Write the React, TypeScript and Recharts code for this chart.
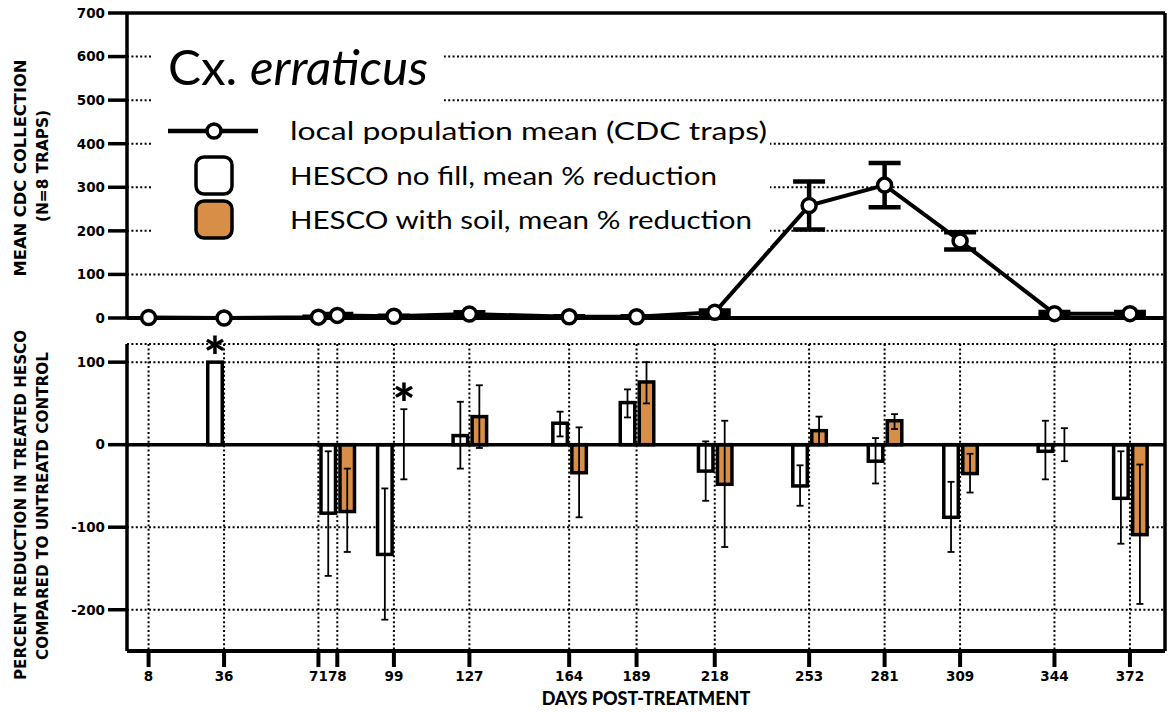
import React from 'react';
import {
  ComposedChart,
  Line,
  Bar,
  XAxis,
  YAxis,
  CartesianGrid,
  ErrorBar,
  ReferenceLine,
  ReferenceDot,
} from 'recharts';

// ---------- data ----------
const days = [8, 36, 71, 78, 99, 127, 164, 189, 218, 253, 281, 309, 344, 372];
const cdcMean = [1, 0, 2, 6, 4, 9, 3, 3, 13, 258, 305, 177, 10, 10];
const cdcErr = [0, 0, 1, 3, 1, 4, 1, 1, 4, 55, 51, 20, 4, 4];

const barDays = [36, 78, 99, 127, 164, 189, 218, 253, 281, 309, 344, 372];
const noFill = [100, -83, -133, 11, 26, 51, -32, -50, -20, -88, -8, -65];
const noFillLow = [null, -159, -212, -29, 10, 33, -68, -74, -47, -130, -42, -120];
const noFillHigh = [null, -8, -53, 52, 40, 67, 4, -25, 8, -45, 29, -8];
const soil = [null, -81, 0, 34, -34, 76, -48, 17, 29, -35, 0, -109];
const soilLow = [null, -130, -42, -4, -88, 50, -124, 0, 19, -58, -20, -193];
const soilHigh = [null, -29, 43, 72, 21, 100, 29, 34, 37, -11, 20, -24];

const starNoFillDays = [36];
const starSoilDays = [99];

const topYTicks = [0, 100, 200, 300, 400, 500, 600, 700];
const bottomYTicks = [-200, -100, 0, 100];

const seriesNames = [
  'local population mean (CDC traps)',
  'HESCO no fill, mean % reduction',
  'HESCO with soil, mean % reduction',
];

// ---------- tables ----------
const topData = days.map((d, i) => ({ day: d, mean: cdcMean[i], err: cdcErr[i] }));
const barData = barDays.map((d, i) => ({
  day: d,
  nofill: noFill[i],
  nofillErr:
    noFillLow[i] == null ? null : [noFill[i] - (noFillLow[i] as number), (noFillHigh[i] as number) - noFill[i]],
  soil: soil[i],
  soilErr:
    soil[i] == null || soilLow[i] == null
      ? null
      : [(soil[i] as number) - (soilLow[i] as number), (soilHigh[i] as number) - (soil[i] as number)],
}));

const starPoints = [
  ...starNoFillDays.map((d) => {
    const i = barDays.indexOf(d);
    return { axis: 'w', day: d, y: Math.max(noFill[i], (noFillHigh[i] as number) ?? noFill[i]) };
  }),
  ...starSoilDays.map((d) => {
    const i = barDays.indexOf(d);
    return { axis: 's', day: d, y: Math.max(soil[i] as number, (soilHigh[i] as number) ?? (soil[i] as number)) };
  }),
];

// ---------- styles ----------
const FONT = 'Lato, "Open Sans", sans-serif';
const BOLDFONT = '"DejaVu Sans", Lato, sans-serif';
const ORANGE = '#D88E47';
const X_MAX = 385;
const SHIFT_W = 3.34; // half bar offset in days for no-fill bars
const SHIFT_S = 3.71; // for soil bars
const gridStyle = { stroke: '#000', strokeWidth: 2, strokeDasharray: '2 2.4' };
const tickStyle = { fill: '#000', fontSize: 13.5, fontWeight: 700, fontFamily: BOLDFONT };

const makeBarShape = (fill: string) => (props: any) => {
  const { x, y, width, height } = props;
  if (x == null || y == null || !height) return null;
  const top = Math.min(y, y + height);
  const h = Math.abs(height);
  return <rect x={x} y={top} width={width} height={h} fill={fill} stroke="#000" strokeWidth={3.5} />;
};

const StarShape = (props: any) => {
  const { cx, cy } = props;
  if (cx == null || cy == null) return null;
  return (
    <text x={cx} y={cy + 14} textAnchor="middle" fontSize={54} fontWeight={900} fontFamily={FONT} fill="#000">
      *
    </text>
  );
};

const titleStyle = { fontSize: 15.5, fontWeight: 700, fontFamily: BOLDFONT, fill: '#000' } as const;

export default function App() {
  return (
    <div style={{ position: 'absolute', left: 0, top: 0, width: 1168, height: 712, background: '#fff' }}>
      {/* top panel */}
      <div style={{ position: 'absolute', left: 0, top: 0 }}>
        <ComposedChart width={1168} height={330} data={topData} margin={{ top: 13, right: 3, bottom: 0, left: 0 }}>
          <CartesianGrid {...gridStyle} />
          <XAxis
            dataKey="day"
            type="number"
            domain={[0, X_MAX]}
            ticks={days}
            interval={0}
            allowDataOverflow
            tick={false}
            tickLine={false}
            height={12}
            axisLine={{ stroke: '#000', strokeWidth: 4 }}
          />
          <YAxis
            type="number"
            domain={[0, 700]}
            ticks={topYTicks}
            interval={0}
            width={127}
            tickSize={19}
            tickMargin={3}
            axisLine={{ stroke: '#000', strokeWidth: 3.5 }}
            tickLine={{ stroke: '#000', strokeWidth: 3.5 }}
            tick={tickStyle}
          />
          <ReferenceLine y={700} stroke="#000" strokeWidth={3.5} />
          <ReferenceLine x={X_MAX} stroke="#000" strokeWidth={3.5} />
          <Line
            dataKey="mean"
            name={seriesNames[0]}
            type="linear"
            stroke="#000"
            strokeWidth={4}
            dot={{ r: 7, fill: '#fff', stroke: '#000', strokeWidth: 3.5 }}
            isAnimationActive={false}
          >
            <ErrorBar dataKey="err" width={16} strokeWidth={4.5} stroke="#000" direction="y" />
          </Line>
        </ComposedChart>
      </div>

      {/* bottom panel */}
      <div style={{ position: 'absolute', left: 0, top: 318 }}>
        <ComposedChart width={1168} height={394} data={barData} margin={{ top: 26, right: 3, bottom: 0, left: 0 }}>
          <CartesianGrid {...gridStyle} />
          <XAxis
            dataKey="day"
            type="number"
            domain={[0, X_MAX]}
            ticks={days}
            interval={0}
            allowDataOverflow
            height={61}
            tickSize={16}
            tickMargin={4}
            axisLine={{ stroke: '#000', strokeWidth: 4 }}
            tickLine={{ stroke: '#000', strokeWidth: 4 }}
            tick={tickStyle}
            label={{
              value: 'DAYS POST-TREATMENT',
              position: 'insideBottom',
              offset: 7,
              style: { fill: '#000', fontSize: 18, fontWeight: 900, fontFamily: FONT },
            }}
          />
          <XAxis xAxisId="w" dataKey="day" type="number" domain={[SHIFT_W, X_MAX + SHIFT_W]} allowDataOverflow hide />
          <XAxis xAxisId="s" dataKey="day" type="number" domain={[-SHIFT_S, X_MAX - SHIFT_S]} allowDataOverflow hide />
          <YAxis
            type="number"
            domain={[-250, 122]}
            ticks={bottomYTicks}
            interval={0}
            allowDataOverflow
            width={127}
            tickSize={19}
            tickMargin={3}
            axisLine={{ stroke: '#000', strokeWidth: 3.5 }}
            tickLine={{ stroke: '#000', strokeWidth: 3.5 }}
            tick={tickStyle}
          />
          <Bar
            xAxisId="w"
            dataKey="nofill"
            name={seriesNames[1]}
            barSize={14.5}
            shape={makeBarShape('#fff')}
            isAnimationActive={false}
          >
            <ErrorBar dataKey="nofillErr" width={3.5} strokeWidth={1.8} stroke="#000" direction="y" />
          </Bar>
          <Bar
            xAxisId="s"
            dataKey="soil"
            name={seriesNames[2]}
            barSize={14.5}
            shape={makeBarShape(ORANGE)}
            isAnimationActive={false}
          >
            <ErrorBar dataKey="soilErr" width={3.5} strokeWidth={1.8} stroke="#000" direction="y" />
          </Bar>
          <ReferenceLine y={0} stroke="#000" strokeWidth={3.5} />
          <ReferenceLine
            segment={[
              { x: X_MAX, y: -250 },
              { x: X_MAX, y: 154 },
            ]}
            ifOverflow="visible"
            stroke="#000"
            strokeWidth={3.5}
          />
          {starPoints.map((p) => (
            <ReferenceDot
              key={p.axis + p.day}
              xAxisId={p.axis}
              x={p.day}
              y={p.y}
              r={0}
              ifOverflow="visible"
              shape={StarShape}
            />
          ))}
        </ComposedChart>
      </div>

      {/* legend and axis titles */}
      <svg
        width={1168}
        height={712}
        style={{ position: 'absolute', left: 0, top: 0, pointerEvents: 'none' }}
      >
        <rect x={153} y={30} width={291} height={74} fill="#fff" />
        <rect x={153} y={103} width={617} height={145} fill="#fff" />
        <text x={168} y={85} fontSize={48} fontFamily={FONT} fill="#000" textLength={260} lengthAdjust="spacingAndGlyphs">
          <tspan>Cx. </tspan>
          <tspan fontStyle="italic">erraticus</tspan>
        </text>
        <line x1={168} y1={131} x2={258} y2={131} stroke="#000" strokeWidth={4.5} />
        <circle cx={214} cy={131} r={7} fill="#fff" stroke="#000" strokeWidth={3.5} />
        <rect x={196} y={157} width={36} height={37} rx={8} fill="#fff" stroke="#000" strokeWidth={3.5} />
        <rect x={196} y={201} width={36} height={37} rx={8} fill={ORANGE} stroke="#000" strokeWidth={3.5} />
        <text x={290} y={140} fontSize={25} fontFamily={FONT} fill="#000" textLength={477} lengthAdjust="spacingAndGlyphs">
          {seriesNames[0]}
        </text>
        <text x={290} y={185} fontSize={25} fontFamily={FONT} fill="#000" textLength={427} lengthAdjust="spacingAndGlyphs">
          {seriesNames[1]}
        </text>
        <text x={290} y={229} fontSize={25} fontFamily={FONT} fill="#000" textLength={462} lengthAdjust="spacingAndGlyphs">
          {seriesNames[2]}
        </text>

        <text transform="translate(26,168) rotate(-90)" textAnchor="middle" {...titleStyle} textLength={217} lengthAdjust="spacingAndGlyphs">
          MEAN CDC COLLECTION
        </text>
        <text transform="translate(48,166) rotate(-90)" textAnchor="middle" {...titleStyle} textLength={112} lengthAdjust="spacingAndGlyphs">
          (N=8 TRAPS)
        </text>
        <text transform="translate(26,505) rotate(-90)" textAnchor="middle" {...titleStyle} textLength={350} lengthAdjust="spacingAndGlyphs">
          PERCENT REDUCTION IN TREATED HESCO
        </text>
        <text transform="translate(48,506) rotate(-90)" textAnchor="middle" {...titleStyle} textLength={308} lengthAdjust="spacingAndGlyphs">
          COMPARED TO UNTREATD CONTROL
        </text>
      </svg>
    </div>
  );
}
